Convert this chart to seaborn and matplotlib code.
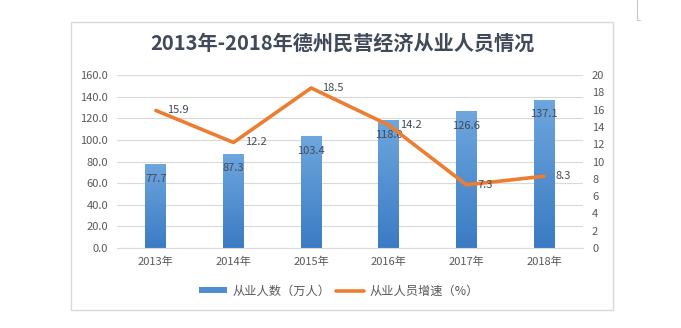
import numpy as np
import pandas as pd
import matplotlib
matplotlib.use("Agg")
import matplotlib.pyplot as plt
from matplotlib.patches import Rectangle, Patch
from matplotlib.lines import Line2D
from matplotlib.colors import LinearSegmentedColormap
import seaborn as sns

# ---- data ----
years = ["2013年", "2014年", "2015年", "2016年", "2017年", "2018年"]
workers = [77.7, 87.3, 103.4, 118.0, 126.6, 137.1]      # 从业人数（万人）
growth = [15.9, 12.2, 18.5, 14.2, 7.3, 8.3]             # 从业人员增速（%）
left_ticks = [0, 20, 40, 60, 80, 100, 120, 140, 160]
right_ticks = [0, 2, 4, 6, 8, 10, 12, 14, 16, 18, 20]

title = "2013年-2018年德州民营经济从业人员情况"
bar_label = "从业人数（万人）"
line_label = "从业人员增速（%）"

sns.set_theme(style="white")
plt.rcParams["font.family"] = ["Noto Sans CJK SC", "DejaVu Sans"]

W, H = 681, 328
fig = plt.figure(figsize=(W / 100, H / 100), dpi=100)
fig.patch.set_facecolor("white")

# chart frame
fig.add_artist(Rectangle((71 / W, 1 - 310 / H), (613 - 71) / W, (310 - 22) / H,
                         transform=fig.transFigure, fill=False,
                         edgecolor="#d9d9d9", lw=1.0))
# small page mark in the corner
fig.add_artist(Line2D([637 / W, 637 / W], [1.0, 1 - 20 / H],
                      transform=fig.transFigure, color="#c8c8c8", lw=0.8))
fig.add_artist(Line2D([637 / W, 640 / W], [1 - 20 / H, 1 - 20 / H],
                      transform=fig.transFigure, color="#c8c8c8", lw=0.8))

ax = fig.add_axes([117 / W, 1 - 248 / H, (583 - 117) / W, (248 - 75) / H])

txt_col = "#595959"
lab_col = "#404a58"
bar_top = "#6ea6de"
bar_bot = "#3b7bc4"
orange = "#ED7D31"

df = pd.DataFrame({"year": years, "workers": workers, "growth": growth})

sns.barplot(data=df, x="year", y="workers", ax=ax, width=0.27,
            color=bar_bot, saturation=1, zorder=2)

# vertical gradient fill for each bar
cmap = LinearSegmentedColormap.from_list("bar", [bar_bot, bar_top])
grad = np.linspace(0, 1, 256).reshape(-1, 1)
for p in ax.patches:
    x0, y0 = p.get_x(), p.get_y()
    w, h = p.get_width(), p.get_height()
    im = ax.imshow(grad, cmap=cmap, origin="lower", aspect="auto",
                   extent=[x0, x0 + w, y0, y0 + h], zorder=2.1)
    im.set_clip_path(p)
    p.set_facecolor("none")
    p.set_edgecolor("none")

ax.set_xlim(-0.5, len(years) - 0.5)
ax.set_ylim(0, 160)
ax.set_yticks(left_ticks)
ax.set_yticklabels([f"{v:.1f}" for v in left_ticks])
ax.grid(axis="y", color="#d9d9d9", lw=0.8, zorder=0)
ax.set_axisbelow(True)
ax.set_xlabel("")
ax.set_ylabel("")
for s in ["top", "left", "right"]:
    ax.spines[s].set_visible(False)
ax.spines["bottom"].set_color("#d9d9d9")
ax.spines["bottom"].set_linewidth(0.8)
ax.tick_params(axis="both", length=0, colors=txt_col, labelsize=8)
ax.tick_params(axis="y", pad=6.5)
ax.tick_params(axis="x", pad=6)

for i, v in enumerate(workers):
    ax.annotate(f"{v:.1f}", (i, v), xytext=(0, -7), textcoords="offset points",
                ha="center", va="top", fontsize=8, color=lab_col, zorder=5)

ax2 = ax.twinx()
sns.lineplot(data=df, x="year", y="growth", ax=ax2, sort=False,
             color=orange, lw=2.6, zorder=3)
ax2.set_ylim(0, 20)
ax2.set_yticks(right_ticks)
ax2.set_yticklabels([str(v) for v in right_ticks])
ax2.set_ylabel("")
for s in ["top", "left", "right", "bottom"]:
    ax2.spines[s].set_visible(False)
ax2.tick_params(axis="y", length=0, colors=txt_col, labelsize=8, pad=6.5)
ax2.grid(False)

for i, v in enumerate(growth):
    ax2.annotate(f"{v:.1f}", (i, v), xytext=(8, 0), textcoords="offset points",
                 ha="left", va="center", fontsize=8, color=lab_col, zorder=5)

fig.text(342 / W, 1 - 43 / H, title, ha="center", va="center",
         fontsize=14.5, fontweight="bold", color="#404a58")

handles = [Patch(facecolor="#4f8dd2", edgecolor="none"),
           Line2D([0], [0], color=orange, lw=2.6)]
fig.legend(handles, [bar_label, line_label], loc="center",
           bbox_to_anchor=(339 / W, 1 - 291 / H), ncol=2, frameon=False,
           fontsize=8.8, labelcolor=txt_col, handlelength=2.3, handleheight=0.35,
           handletextpad=0.4, columnspacing=0.5)

fig.savefig("out.png", dpi=100)
